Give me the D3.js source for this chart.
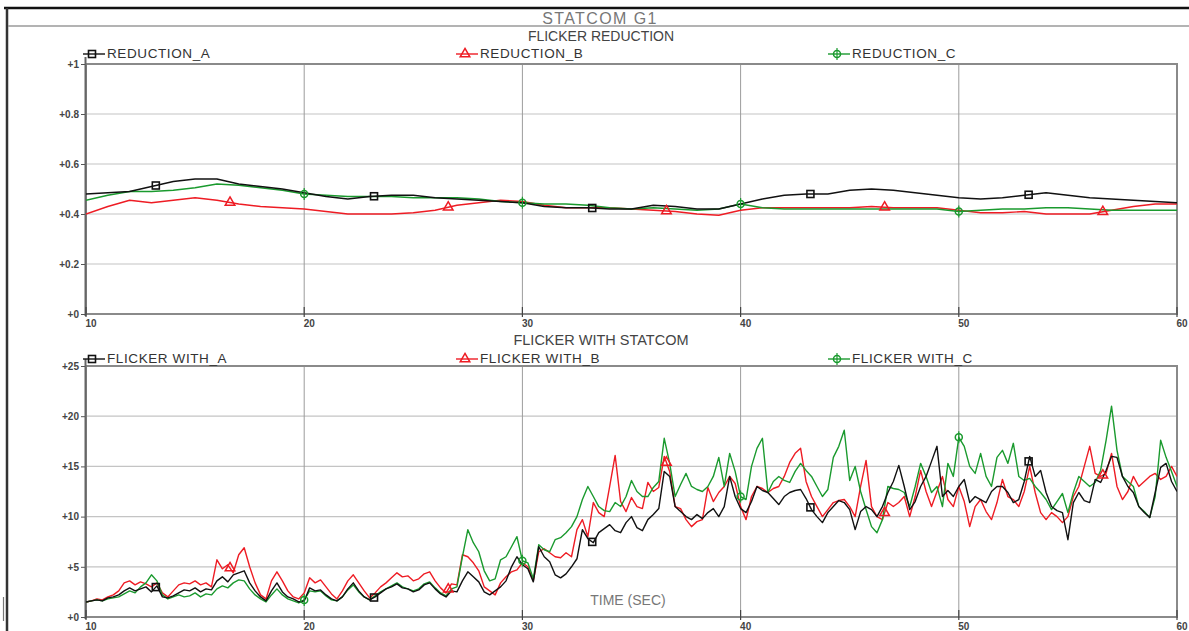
<!DOCTYPE html>
<html><head><meta charset="utf-8">
<script src="https://cdn.jsdelivr.net/npm/d3@7"></script>
<style>body{margin:0;background:#fff;} svg{display:block;font-family:"Liberation Sans",Arial,sans-serif;}</style>
</head><body><svg id="c" width="1189" height="631"></svg>
<script>
// ---------- DATA ----------
const xTicks = [10, 20, 30, 40, 50, 60];
const xTickLabels = ["10", "20", "30", "40", "50", "60"];
const topTicks = [0, 0.2, 0.4, 0.6, 0.8, 1];
const topTickLabels = ["+0", "+0.2", "+0.4", "+0.6", "+0.8", "+1"];
const botTicks = [0, 5, 10, 15, 20, 25];
const botTickLabels = ["+0", "+5", "+10", "+15", "+20", "+25"];
const mainTitle = "STATCOM G1";
const topTitle = "FLICKER REDUCTION";
const botTitle = "FLICKER WITH STATCOM";
const xTitle = "TIME (SEC)";
const topNames = ["REDUCTION_A", "REDUCTION_B", "REDUCTION_C"];
const botNames = ["FLICKER WITH_A", "FLICKER WITH_B", "FLICKER WITH_C"];
const markerTimesA = [13.2, 23.2, 33.2, 43.2, 53.2];
const markerTimesB = [16.6, 26.6, 36.6, 46.6, 56.6];
const markerTimesC = [20, 30, 40, 50];

// sampling grids (seconds)
const timeTop = d3.range(10, 60.001, 1);
const timeBot = d3.range(0, 201).map(i => 10 + i * 0.25);

const reductionA = [0.48,0.485,0.49,0.51,0.53,0.54,0.54,0.52,0.51,0.50,
 0.485,0.47,0.46,0.47,0.475,0.475,0.465,0.46,0.455,0.45,
 0.445,0.43,0.425,0.425,0.42,0.42,0.435,0.43,0.42,0.42,
 0.44,0.46,0.475,0.48,0.48,0.495,0.50,0.495,0.485,0.475,
 0.465,0.46,0.465,0.475,0.485,0.475,0.465,0.46,0.455,0.45,0.445];
const reductionB = [0.40,0.43,0.455,0.445,0.455,0.465,0.455,0.44,0.43,0.425,
 0.42,0.41,0.40,0.40,0.40,0.405,0.415,0.435,0.445,0.455,
 0.45,0.435,0.425,0.425,0.425,0.42,0.415,0.41,0.40,0.395,
 0.415,0.425,0.425,0.425,0.425,0.425,0.43,0.425,0.425,0.425,
 0.415,0.405,0.405,0.41,0.40,0.40,0.40,0.415,0.43,0.44,0.44];
const reductionC = [0.455,0.475,0.49,0.49,0.495,0.505,0.52,0.515,0.505,0.495,
 0.48,0.475,0.47,0.47,0.47,0.465,0.465,0.465,0.46,0.45,
 0.445,0.44,0.44,0.435,0.425,0.42,0.425,0.42,0.415,0.42,
 0.44,0.425,0.42,0.42,0.42,0.42,0.42,0.42,0.42,0.42,
 0.41,0.415,0.42,0.42,0.425,0.425,0.42,0.415,0.415,0.415,0.415];

const flickerA = [
 1.5,1.6,1.7,1.6,1.9,2.0,2.2,2.6,2.9,2.6,2.8,3.0,2.5,3.1,2.0,1.9,2.1,2.4,2.7,2.6,2.9,2.5,2.8,2.7,3.6,4.0,3.5,4.2,4.4,4.6,3.4,2.6,2.0,1.6,2.6,3.4,2.5,2.0,1.8,1.5,1.6,
 2.9,2.6,2.7,2.2,1.8,1.6,2.0,2.8,3.4,2.6,2.0,1.7,2.0,2.4,2.8,3.0,3.3,2.9,2.8,2.5,2.7,3.2,3.4,2.8,2.3,2.0,2.6,2.5,3.6,4.5,4.0,3.5,2.5,2.2,2.6,3.0,3.6,5.0,6.0,5.2,
 4.8,3.5,7.0,6.0,5.5,4.2,3.9,4.3,5.0,5.8,8.7,7.8,7.4,8.4,8.8,9.2,8.6,8.4,9.4,10.0,8.9,8.6,9.7,10.2,10.8,14.5,14.0,11.0,10.5,10.0,9.7,10.2,9.8,10.4,10.8,10.0,11.0,14.0,12.0,10.8,
 10.4,11.5,13.0,12.6,12.4,11.8,11.2,12.0,12.4,12.6,12.7,11.8,10.7,10.0,9.4,10.4,11.0,11.6,11.4,10.7,8.7,10.5,11.0,10.7,10.0,11.0,12.4,13.5,15.1,13.0,10.7,11.5,13.0,14.0,15.5,17.0,12.0,12.6,12.0,13.0,
 13.7,11.4,12.0,11.7,11.4,12.5,13.0,13.0,12.4,11.4,11.7,13.5,16.0,14.0,14.6,12.4,11.0,10.6,10.4,7.7,11.4,12.4,11.6,11.4,13.7,13.4,14.6,16.0,15.9,14.0,13.0,12.4,11.0,10.4,9.9,12.4,14.9,15.3,13.5,12.5];
const flickerB = [
 1.5,1.6,1.8,1.7,2.0,2.2,2.6,3.4,3.6,3.2,3.5,3.3,3.0,3.4,2.4,2.0,2.6,3.2,3.4,3.3,3.6,3.2,3.4,3.0,5.7,4.8,5.2,4.4,6.2,6.9,5.0,3.4,2.2,1.8,3.6,4.5,3.6,2.6,2.0,1.8,2.4,
 3.9,3.4,3.7,3.0,2.3,1.8,2.6,3.6,4.2,3.4,2.6,1.9,2.4,3.0,3.4,3.9,4.4,4.0,4.1,3.6,3.8,4.3,4.5,3.6,2.9,2.4,3.3,3.2,6.2,6.0,5.4,4.6,3.0,2.6,2.2,3.4,4.0,4.5,4.7,5.4,
 5.0,3.6,6.5,6.8,6.4,6.0,5.9,6.4,6.0,8.7,9.7,8.0,11.4,10.4,10.0,13.0,16.1,11.5,10.5,11.9,11.0,10.8,13.4,12.5,12.9,16.0,14.5,11.0,10.8,9.7,9.0,9.5,9.7,12.9,11.5,12.4,13.0,14.0,13.3,11.0,
 9.7,12.0,13.0,12.8,12.4,12.8,13.0,14.0,15.4,16.3,16.8,13.5,12.0,11.0,10.0,10.7,11.4,11.6,11.7,11.0,10.0,13.0,15.6,11.0,10.0,9.7,11.4,11.0,11.4,12.0,10.0,12.0,14.6,12.5,11.0,12.5,14.0,11.7,11.0,13.0,
 11.5,9.0,11.0,11.7,10.5,9.7,11.4,13.7,12.0,11.7,11.0,12.5,15.0,12.4,10.4,9.7,10.4,10.0,9.4,10.0,12.0,13.0,15.0,17.0,14.3,14.0,14.3,16.3,13.0,11.7,12.5,14.0,13.0,13.5,14.0,14.3,13.7,14.0,15.0,14.0];
const flickerC = [
 1.5,1.6,1.7,1.6,1.8,1.9,2.0,2.3,2.6,2.4,3.0,3.4,4.2,3.6,2.2,1.8,2.0,2.2,2.0,2.1,2.4,2.0,2.3,2.2,2.8,3.1,2.9,3.4,3.7,3.6,2.8,2.2,1.8,1.5,2.2,2.8,2.2,1.8,1.6,1.4,1.7,
 2.6,2.5,2.6,2.1,1.7,1.6,2.0,2.7,3.2,2.5,2.0,1.7,2.1,2.5,2.8,3.1,3.4,3.0,2.8,2.6,2.8,3.3,3.5,2.9,2.4,2.1,2.8,3.0,6.0,8.7,7.4,6.5,4.6,3.6,3.8,5.7,6.0,7.0,8.0,5.6,
 5.4,3.8,7.2,6.7,6.5,7.7,7.9,8.4,9.0,10.0,11.7,13.0,12.0,11.0,10.6,10.5,11.4,11.0,12.0,13.6,12.5,12.0,12.0,12.9,13.5,17.8,15.3,12.0,13.2,14.3,13.0,12.7,12.5,13.0,14.0,15.9,13.0,16.3,14.5,12.0,
 11.7,15.0,16.8,17.8,12.4,13.5,14.0,13.6,13.4,14.5,15.3,14.6,14.0,13.0,12.0,12.7,15.9,17.0,18.6,13.6,15.0,12.5,10.7,9.0,8.4,9.7,13.0,12.8,12.7,12.4,11.0,13.0,15.3,14.0,12.4,13.0,11.0,15.3,14.0,17.9,
 17.0,15.0,14.3,16.3,14.0,13.0,15.9,16.6,15.3,17.3,14.0,13.6,13.8,13.0,12.4,11.7,10.7,11.5,12.3,10.4,12.4,14.0,13.5,13.0,13.4,14.6,17.6,21.0,16.6,14.0,13.5,13.0,11.0,10.5,9.9,12.0,17.6,15.9,14.5,13.0];

const colors = ["#111111", "#ee1c24", "#1a9a2e"];

// ---------- DRAW ----------
const svg = d3.select("#c");
const xL = 86, xR = 1177;
const x = d3.scaleLinear().domain([10, 60]).range([xL, xR]);

// outer frame
svg.append("line").attr("x1", 4).attr("x2", 1189).attr("y1", 8).attr("y2", 8).attr("stroke", "#111").attr("stroke-width", 2.5);
svg.append("line").attr("x1", 7).attr("x2", 7).attr("y1", 8).attr("y2", 631).attr("stroke", "#333").attr("stroke-width", 2.5);
svg.append("line").attr("x1", 8).attr("x2", 1189).attr("y1", 26).attr("y2", 26).attr("stroke", "#9a9a9a").attr("stroke-width", 1.5);
svg.append("line").attr("x1", 3.5).attr("x2", 3.5).attr("y1", 597).attr("y2", 621).attr("stroke", "#777").attr("stroke-width", 1.2);

svg.append("text").attr("x", 600).attr("y", 24).attr("text-anchor", "middle")
  .attr("font-size", 16).attr("letter-spacing", 1.4).attr("fill", "#777").text(mainTitle);
svg.append("text").attr("x", 601).attr("y", 41).attr("text-anchor", "middle")
  .attr("font-size", 14).attr("fill", "#444").text(topTitle);
svg.append("text").attr("x", 601).attr("y", 345).attr("text-anchor", "middle")
  .attr("font-size", 14.5).attr("fill", "#444").text(botTitle);
svg.append("text").attr("x", 628).attr("y", 605).attr("text-anchor", "middle")
  .attr("font-size", 14).attr("fill", "#777").text(xTitle);

function marker(g, type, cx, cy, color) {
  if (type === 0) {
    g.append("rect").attr("x", cx - 3.5).attr("y", cy - 3.5).attr("width", 7).attr("height", 7)
      .attr("fill", "none").attr("stroke", color).attr("stroke-width", 1.6);
  } else if (type === 1) {
    g.append("path").attr("d", d3.symbol(d3.symbolTriangle, 40)()).attr("transform", `translate(${cx},${cy})`)
      .attr("fill", "none").attr("stroke", color).attr("stroke-width", 1.5);
  } else {
    g.append("circle").attr("cx", cx).attr("cy", cy).attr("r", 3.5)
      .attr("fill", "none").attr("stroke", color).attr("stroke-width", 1.5);
    g.append("line").attr("x1", cx).attr("x2", cx).attr("y1", cy - 6).attr("y2", cy + 6)
      .attr("stroke", color).attr("stroke-width", 1.2);
  }
}

function interp(times, vals, t) {
  const i = d3.bisectLeft(times, t);
  if (i <= 0) return vals[0];
  if (i >= times.length) return vals[vals.length - 1];
  const t0 = times[i - 1], t1 = times[i];
  const f = (t - t0) / (t1 - t0);
  return vals[i - 1] * (1 - f) + vals[i] * f;
}

const panels = [
  { yTop: 64, yBot: 314, domain: [0, 1], ticks: topTicks, labels: topTickLabels,
    times: timeTop, series: [reductionA, reductionB, reductionC], names: topNames, legY: 54, lw: 1.4 },
  { yTop: 366, yBot: 617, domain: [0, 25], ticks: botTicks, labels: botTickLabels,
    times: timeBot, series: [flickerA, flickerB, flickerC], names: botNames, legY: 359, lw: 1.4 }
];
const markerTimes = [markerTimesA, markerTimesB, markerTimesC];
const legX = [92, 465, 837];

panels.forEach((p, pi) => {
  const y = d3.scaleLinear().domain(p.domain).range([p.yBot, p.yTop]);
  const g = svg.append("g");
  // grid
  g.selectAll(".hg").data(p.ticks.slice(1, -1)).join("line")
    .attr("x1", xL).attr("x2", xR).attr("y1", d => y(d)).attr("y2", d => y(d))
    .attr("stroke", "#c4c4c4").attr("stroke-width", 1.2);
  g.selectAll(".vg").data(xTicks.slice(1, -1)).join("line")
    .attr("x1", d => x(d)).attr("x2", d => x(d)).attr("y1", p.yTop).attr("y2", p.yBot)
    .attr("stroke", "#9c9c9c").attr("stroke-width", 1);
  // frame
  g.append("rect").attr("x", xL).attr("y", p.yTop).attr("width", xR - xL).attr("height", p.yBot - p.yTop)
    .attr("fill", "none").attr("stroke", "#8a8a8a").attr("stroke-width", 2);
  g.append("line").attr("x1", xL - 0.5).attr("x2", xL - 0.5).attr("y1", p.yTop - 7).attr("y2", p.yBot + 2)
    .attr("stroke", "#666").attr("stroke-width", 2);
  // y axis
  const ya = d3.axisLeft(y).tickValues(p.ticks).tickSize(4).tickPadding(2).tickFormat((d, i) => p.labels[i]);
  const yg = g.append("g").attr("transform", `translate(${xL - 1},0)`).call(ya);
  yg.select(".domain").remove();
  yg.selectAll("line").attr("stroke", "#555");
  yg.selectAll("text").attr("font-size", 10).attr("font-weight", "bold").attr("fill", "#444")
    .attr("font-family", "'Liberation Sans',Arial,sans-serif");
  // x axis
  const xa = d3.axisBottom(x).tickValues(xTicks).tickSize(0).tickPadding(6).tickFormat((d, i) => xTickLabels[i]);
  const xg = g.append("g").attr("transform", `translate(0,${p.yBot})`).call(xa);
  xg.select(".domain").remove();
  xg.selectAll("text").attr("text-anchor", "start").attr("dx", -1).attr("font-size", 10).attr("font-weight", "bold")
    .attr("fill", "#444").attr("font-family", "'Liberation Sans',Arial,sans-serif");
  g.selectAll(".xt").data(xTicks).join("line")
    .attr("x1", d => x(d)).attr("x2", d => x(d)).attr("y1", p.yBot - 7).attr("y2", p.yBot + 3)
    .attr("stroke", "#444").attr("stroke-width", 1.2);

  // clip
  const cid = "clip" + pi;
  svg.append("clipPath").attr("id", cid).append("rect")
    .attr("x", xL).attr("y", p.yTop).attr("width", xR - xL).attr("height", p.yBot - p.yTop);
  const lg = svg.append("g").attr("clip-path", `url(#${cid})`);
  const order = [1, 2, 0];
  order.forEach(si => {
    const vals = p.series[si];
    const line = d3.line().x((d, i) => x(p.times[i])).y(d => y(d));
    lg.append("path").datum(vals).attr("d", line).attr("fill", "none")
      .attr("stroke", colors[si]).attr("stroke-width", p.lw).attr("stroke-linejoin", "round");
  });
  const mg = svg.append("g");
  [0, 1, 2].forEach(si => {
    markerTimes[si].forEach(t => {
      marker(mg, si, x(t), y(interp(p.times, p.series[si], t)), colors[si]);
    });
  });
  // legend
  const leg = svg.append("g");
  [0, 1, 2].forEach(si => {
    const cx = legX[si];
    leg.append("line").attr("x1", cx - 9).attr("x2", cx + 13).attr("y1", p.legY).attr("y2", p.legY)
      .attr("stroke", colors[si]).attr("stroke-width", 1.4);
    marker(leg, si, cx, p.legY, colors[si]);
    leg.append("text").attr("x", cx + 15).attr("y", p.legY + 4).attr("font-size", 13.5)
      .attr("letter-spacing", 0.6).attr("fill", "#333").text(p.names[si]);
  });
});
</script></body></html>
